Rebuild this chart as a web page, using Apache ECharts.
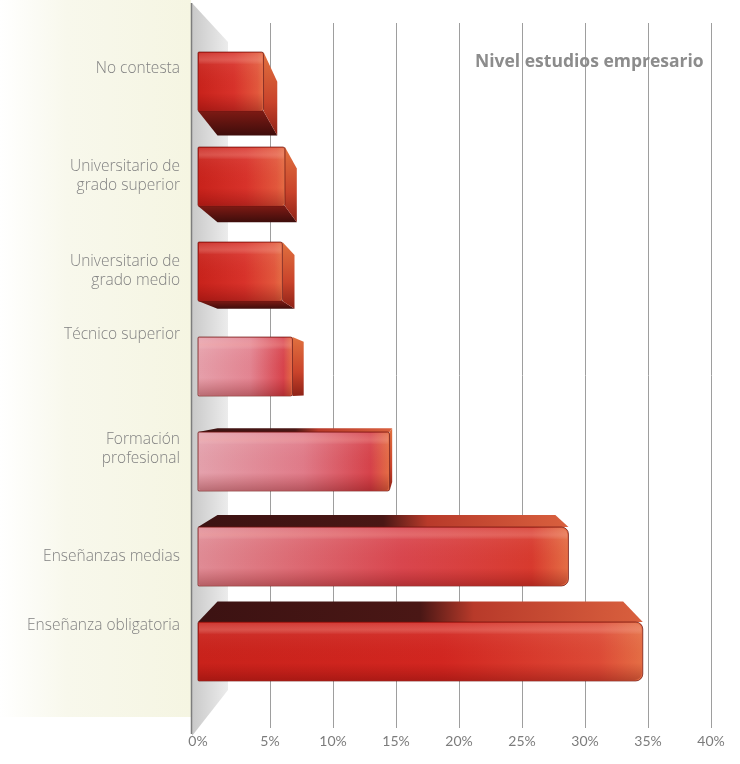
<!DOCTYPE html>
<html>
<head>
<meta charset="utf-8">
<script src="https://cdn.jsdelivr.net/npm/echarts@6/dist/echarts.min.js"></script>
<style>
  html, body { margin: 0; padding: 0; background: #ffffff; }
  #chart { width: 740px; height: 764px; }
</style>
</head>
<body>
<div id="chart"></div>
<script>
// Nivel de estudios del empresario (% de respuestas)
const categories = [
  'No contesta',
  'Universitario de\ngrado superior',
  'Universitario de\ngrado medio',
  'Técnico superior',
  'Formación\nprofesional',
  'Enseñanzas medias',
  'Enseñanza obligatoria'
];
const shares = [5.2, 6.9, 6.7, 7.5, 15.2, 29.4, 35.3];
const tickValues = [0, 5, 10, 15, 20, 25, 30, 35, 40];
const chartTitle = 'Nivel estudios empresario';

// --- presentation ---------------------------------------------------------
const FONT = '"Open Sans", Lato, sans-serif';

// vertical nudge (px, upward) for each category label
const labelLift = [13, 0, 0, 32, 12, 0, 26];

// front-face tints per bar: [left, middle, right]
const tints = [
  ['#c8221b', '#d8322a', '#e2573c'],
  ['#c8221b', '#d8322a', '#e2573c'],
  ['#c8221b', '#d8322a', '#e2573c'],
  ['#e6a0ab', '#e38592', '#d8434c'],
  ['#e4a2ad', '#e07b89', '#d6424a'],
  ['#e08c96', '#d9464e', '#d83a2e'],
  ['#c9221b', '#d22620', '#dd4a36']
];

// spacer tokens that lift a category label above its band centre
const labelRich = {};
labelLift.forEach((lift, i) => {
  if (lift > 0) labelRich['g' + i] = { height: lift * 2, lineHeight: lift * 2, fontSize: 1 };
});

const chart = echarts.init(document.getElementById('chart'), null, { renderer: 'canvas' });

function renderBar(params, api) {
  const idx = params.dataIndex;
  const v = api.value(0);
  const c = api.value(1);
  const start = api.coord([0, c]);
  const end = api.coord([v, c]);
  const band = api.size([0, 1])[1];
  const h = band * 0.62;
  const cs = params.coordSys;
  // point the bar depth converges to
  const vx = cs.x + cs.width * 0.44;
  const vy = cs.y + cs.height * 0.535;
  const k = 0.088;
  const back = (x, y) => [x + (vx - x) * k, y + (vy - y) * k];

  const x0 = start[0], x1 = end[0];
  const y0 = end[1] - h / 2, y1 = end[1] + h / 2;
  const t = tints[idx];
  const children = [];

  // top face (seen on bars below the convergence point)
  if (y0 > vy) {
    children.push({
      type: 'polygon',
      shape: { points: [[x0, y0], [x1, y0], back(x1, y0), back(x0, y0)] },
      style: {
        fill: new echarts.graphic.LinearGradient(0, 0, 1, 0, [
          { offset: 0, color: '#3c1212' },
          { offset: 0.5, color: '#4a1715' },
          { offset: 0.62, color: '#b83a2a' },
          { offset: 1, color: '#d9603e' }
        ])
      }
    });
  }
  // bottom face (seen on bars above the convergence point)
  if (y1 < vy) {
    children.push({
      type: 'polygon',
      shape: { points: [[x0, y1], [x1, y1], back(x1, y1), back(x0, y1)] },
      style: {
        fill: new echarts.graphic.LinearGradient(0, 0, 0, 1, [
          { offset: 0, color: '#7e1a14' },
          { offset: 1, color: '#3e0d0b' }
        ])
      }
    });
  }
  // right end face
  if (x1 < vx) {
    children.push({
      type: 'polygon',
      shape: { points: [[x1, y0], [x1, y1], back(x1, y1), back(x1, y0)] },
      style: {
        fill: new echarts.graphic.LinearGradient(0, 0, 0, 1, [
          { offset: 0, color: '#e0713f' },
          { offset: 0.6, color: '#c9432b' },
          { offset: 1, color: '#8e2217' }
        ])
      }
    });
  }
  // front face
  const w = Math.max(x1 - x0, 1);
  const r = x1 < vx ? 2 : 7;
  children.push({
    type: 'rect',
    shape: { x: x0, y: y0, width: w, height: h, r: [1, r, r, 1] },
    style: {
      fill: new echarts.graphic.LinearGradient(0, 0, 1, 0, [
        { offset: 0, color: t[0] },
        { offset: 0.55, color: t[1] },
        { offset: 0.9, color: t[2] },
        { offset: 1, color: '#e56f45' }
      ]),
      stroke: 'rgba(110,20,16,0.75)',
      lineWidth: 1
    }
  });
  // gloss
  children.push({
    type: 'rect',
    shape: { x: x0 + 1, y: y0 + 1, width: Math.max(w - 2, 1), height: h - 2, r: [1, r, r, 1] },
    style: {
      fill: new echarts.graphic.LinearGradient(0, 0, 0, 1, [
        { offset: 0, color: 'rgba(255,255,255,0.10)' },
        { offset: 0.12, color: 'rgba(255,200,190,0.28)' },
        { offset: 0.2, color: 'rgba(255,255,255,0.05)' },
        { offset: 0.7, color: 'rgba(120,0,0,0.0)' },
        { offset: 1, color: 'rgba(90,0,0,0.30)' }
      ])
    }
  });
  return { type: 'group', children };
}

const option = {
  backgroundColor: '#ffffff',
  animation: false,
  textStyle: { fontFamily: FONT },
  title: {
    text: chartTitle,
    left: 470,
    top: 48,
    textStyle: { fontFamily: FONT, fontSize: 17.5, fontWeight: 'bold', color: '#8c8c8c' }
  },
  graphic: [
    {
      type: 'rect',
      z: -10,
      shape: { x: 0, y: 0, width: 191, height: 717 },
      style: {
        fill: new echarts.graphic.LinearGradient(0, 0, 1, 0, [
          { offset: 0, color: '#ffffff' },
          { offset: 0.35, color: '#f8f8ec' },
          { offset: 1, color: '#f5f5e2' }
        ])
      }
    },
    {
      type: 'polygon',
      z: -9,
      shape: { points: [[192, 3], [228, 42], [228, 690], [192, 736]] },
      style: {
        fill: new echarts.graphic.LinearGradient(0, 0, 1, 0, [
          { offset: 0, color: '#c9c9c9' },
          { offset: 0.6, color: '#dedede' },
          { offset: 1, color: '#ececec' }
        ])
      }
    },
    {
      type: 'line',
      z: -8,
      shape: { x1: 191.5, y1: 3, x2: 191.5, y2: 734 },
      style: { stroke: '#7d7d7d', lineWidth: 1.5 }
    }
  ],
  grid: [
    { left: 207, right: 29, top: 23, bottom: 36 },
    { left: 198, right: 38, top: 34, bottom: 65 }
  ],
  xAxis: [
    {
      gridIndex: 0,
      type: 'value',
      min: tickValues[0],
      max: tickValues[tickValues.length - 1],
      interval: tickValues[1] - tickValues[0],
      axisLine: { show: false },
      axisTick: { show: false },
      axisLabel: {
        formatter: (v) => (v === tickValues[0] ? '{z|' + v + '%}' : v + '%'),
        rich: { z: { padding: [0, 18, 0, 0], fontSize: 14, color: '#7c7c7c', fontFamily: 'Lato, sans-serif' } },
        color: '#7c7c7c',
        fontSize: 14,
        fontFamily: 'Lato, sans-serif',
        margin: 6
      },
      splitLine: { show: true, showMinLine: false, lineStyle: { color: '#9e9e9e', width: 1 } }
    },
    {
      gridIndex: 1,
      type: 'value',
      min: tickValues[0],
      max: tickValues[tickValues.length - 1],
      show: false
    }
  ],
  yAxis: [
    { gridIndex: 0, type: 'value', show: false },
    {
      gridIndex: 1,
      type: 'category',
      inverse: true,
      data: categories,
      axisLine: { show: false },
      axisTick: { show: false },
      splitLine: { show: false },
      axisLabel: {
        formatter: (value, i) => (labelLift[i] > 0 ? value + '\n{g' + i + '| }' : value),
        rich: labelRich,
        color: '#828282',
        fontSize: 15.5,
        fontWeight: 300,
        fontFamily: FONT,
        lineHeight: 19,
        margin: 18,
        align: 'right'
      }
    }
  ],
  series: [
    {
      type: 'custom',
      xAxisIndex: 1,
      yAxisIndex: 1,
      renderItem: renderBar,
      encode: { x: 0, y: 1 },
      data: shares.map((v, i) => [v, i]),
      z: 3
    }
  ]
};

chart.setOption(option);
</script>
</body>
</html>
